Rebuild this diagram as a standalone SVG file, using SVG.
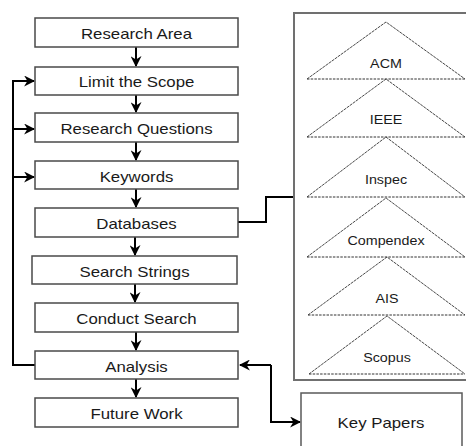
<svg xmlns="http://www.w3.org/2000/svg" width="466" height="446" viewBox="0 0 466 446">
<style>
.box{fill:#fff;stroke:#4a4a4a;stroke-width:1.5}
.lbl{font-family:"Liberation Sans",Arial,sans-serif;font-size:14px;fill:#1a1a1a;text-anchor:middle}
.plbl{font-family:"Liberation Sans",Arial,sans-serif;font-size:13px;fill:#1a1a1a;text-anchor:middle}
.conn{fill:none;stroke:#000;stroke-width:2}
.leg{fill:none;stroke:#333;stroke-width:0.9;stroke-dasharray:3 0.8}
.base{fill:none;stroke:#333;stroke-width:1;stroke-dasharray:2.5 1.2}
</style>
<defs>
<marker id="ah" viewBox="0 0 10 10" refX="9" refY="5" markerWidth="5.5" markerHeight="5.5" orient="auto" markerUnits="strokeWidth">
<path d="M0,0 L10,5 L0,10 L3,5 z" fill="#000"/>
</marker>
</defs>
<rect width="466" height="446" fill="#fff"/>

<g id="connectors">
<line class="conn" x1="136" y1="47" x2="136" y2="66" marker-end="url(#ah)"/>
<line class="conn" x1="136" y1="95" x2="136" y2="112" marker-end="url(#ah)"/>
<line class="conn" x1="136" y1="142" x2="136" y2="160" marker-end="url(#ah)"/>
<line class="conn" x1="136" y1="189" x2="136" y2="207" marker-end="url(#ah)"/>
<line class="conn" x1="135" y1="237" x2="135" y2="255" marker-end="url(#ah)"/>
<line class="conn" x1="135" y1="284" x2="135" y2="302" marker-end="url(#ah)"/>
<line class="conn" x1="136" y1="332" x2="136" y2="350" marker-end="url(#ah)"/>
<line class="conn" x1="136" y1="379" x2="136" y2="397" marker-end="url(#ah)"/>
<path class="conn" d="M35,365 H13 V81 H34" marker-end="url(#ah)"/>
<path class="conn" d="M13,129 H34" marker-end="url(#ah)"/>
<path class="conn" d="M13,177 H34" marker-end="url(#ah)"/>
<path class="conn" d="M238,222 H266 V197 H294"/>
<path class="conn" d="M271,365 H240" marker-end="url(#ah)"/>
<path class="conn" d="M271,365 V422 H300" marker-end="url(#ah)"/>
</g>

<g id="n-research-area"><rect class="box" x="35" y="18" width="203" height="29"/><text class="lbl" transform="translate(136.5,38.5) scale(1.2,1)">Research Area</text></g>
<g id="n-limit-scope"><rect class="box" x="35" y="67" width="203" height="28"/><text class="lbl" transform="translate(136.5,87) scale(1.2,1)">Limit the Scope</text></g>
<g id="n-research-questions"><rect class="box" x="35" y="113" width="203" height="29"/><text class="lbl" transform="translate(136.5,134) scale(1.2,1)">Research Questions</text></g>
<g id="n-keywords"><rect class="box" x="35" y="161" width="203" height="28"/><text class="lbl" transform="translate(136.5,181.5) scale(1.2,1)">Keywords</text></g>
<g id="n-databases"><rect class="box" x="35" y="208" width="203" height="29"/><text class="lbl" transform="translate(136.5,229) scale(1.2,1)">Databases</text></g>
<g id="n-search-strings"><rect class="box" x="32" y="256" width="205" height="28"/><text class="lbl" transform="translate(134.5,276.5) scale(1.2,1)">Search Strings</text></g>
<g id="n-conduct-search"><rect class="box" x="35" y="303" width="203" height="29"/><text class="lbl" transform="translate(136.5,324) scale(1.2,1)">Conduct Search</text></g>
<g id="n-analysis"><rect class="box" x="35" y="351" width="203" height="28"/><text class="lbl" transform="translate(136.5,371.5) scale(1.2,1)">Analysis</text></g>
<g id="n-future-work"><rect class="box" x="35" y="398" width="203" height="29"/><text class="lbl" transform="translate(136.5,419) scale(1.2,1)">Future Work</text></g>

<g id="n-databases-panel">
<rect x="294" y="13" width="190" height="367" fill="#fff" stroke="#707070" stroke-width="2"/>
<g id="n-acm"><path class="leg" d="M307,79 L386,22 L465,79"/><line class="base" x1="307" y1="79" x2="465" y2="79"/><text class="plbl" transform="translate(386,68) scale(1.1,1)">ACM</text></g>
<g id="n-ieee"><path class="leg" d="M307,137 L386,79 L465,137"/><line class="base" x1="307" y1="137" x2="465" y2="137"/><text class="plbl" transform="translate(386,124) scale(1.1,1)">IEEE</text></g>
<g id="n-inspec"><path class="leg" d="M307,197 L386,137 L465,197"/><line class="base" x1="307" y1="197" x2="465" y2="197"/><text class="plbl" transform="translate(386,184) scale(1.1,1)">Inspec</text></g>
<g id="n-compendex"><path class="leg" d="M307,257 L386,198 L465,257"/><line class="base" x1="307" y1="257" x2="465" y2="257"/><text class="plbl" transform="translate(386,245) scale(1.1,1)">Compendex</text></g>
<g id="n-ais"><path class="leg" d="M308,315 L387,257 L465,315"/><line class="base" x1="308" y1="315" x2="465" y2="315"/><text class="plbl" transform="translate(387,303) scale(1.1,1)">AIS</text></g>
<g id="n-scopus"><path class="leg" d="M309,374 L387,316 L465,374"/><line class="base" x1="309" y1="374" x2="465" y2="374"/><text class="plbl" transform="translate(387,362) scale(1.1,1)">Scopus</text></g>
</g>

<g id="n-key-papers"><rect x="301" y="393" width="161" height="70" fill="#fff" stroke="#5a5a5a" stroke-width="1.5"/><text class="lbl" transform="translate(381,428) scale(1.2,1)">Key Papers</text></g>
</svg>
